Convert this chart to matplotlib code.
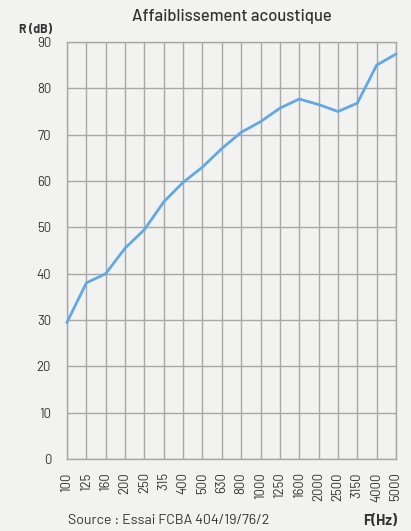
import matplotlib
matplotlib.use("Agg")
import matplotlib.pyplot as plt
from matplotlib import font_manager

freqs = ["100", "125", "160", "200", "250", "315", "400", "500", "630", "800",
         "1000", "1250", "1600", "2000", "2500", "3150", "4000", "5000"]
r_db = [29.5, 38, 40, 45.5, 49.5, 55.5, 59.7, 63, 67, 70.5,
        72.8, 75.7, 77.7, 76.5, 75, 76.8, 85, 87.4]
y_ticks = [0, 10, 20, 30, 40, 50, 60, 70, 80, 90]

names = {f.name for f in font_manager.fontManager.ttflist}
family = "DejaVu Sans"
for cand in ["Barlow", "Barlow Semi Condensed", "Roboto"]:
    if cand in names:
        family = cand
        break
plt.rcParams["font.family"] = [family, "DejaVu Sans"]

bg = "#f2f2f0"
text_col = "#333333"
grid_col = "#a8a8a8"

fig = plt.figure(figsize=(4.11, 5.31), dpi=100, facecolor=bg)
ax = fig.add_axes([67 / 411, 1 - 459 / 531, (396 - 67) / 411, (459 - 42) / 531])
ax.set_facecolor(bg)

x = list(range(len(freqs)))
ax.plot(x, r_db, color="#62a9e3", lw=2.0, solid_joinstyle="miter", zorder=3,
        clip_on=False)

ax.set_xlim(0, len(freqs) - 1)
ax.set_ylim(0, 90)
ax.set_xticks(x)
ax.set_xticklabels(freqs, rotation=90, fontsize=9.5, color=text_col)
ax.set_yticks(y_ticks)
ax.set_yticklabels([str(v) for v in y_ticks], fontsize=9.5, color=text_col)
ax.tick_params(length=0)
ax.tick_params(axis="y", pad=11.5)
ax.tick_params(axis="x", pad=9.5)
ax.grid(True, color=grid_col, lw=1)
for s in ax.spines.values():
    s.set_color(grid_col)
    s.set_linewidth(1)

fig.text(232 / 411, 1 - 17 / 531, "Affaiblissement acoustique", ha="center",
         va="center", fontsize=12, fontweight="medium", color=text_col)
fig.text(52 / 411, 1 - 29 / 531, "R (dB)", ha="right", va="center",
         fontsize=8.8, fontweight="bold", color=text_col)
fig.text(68 / 411, 1 - 521 / 531, "Source : Essai FCBA 404/19/76/2", ha="left",
         va="center", fontsize=10.2, color=text_col)
fig.text(397 / 411, 1 - 521 / 531, "F(Hz)", ha="right", va="center",
         fontsize=10.5, fontweight="bold", color=text_col)

fig.savefig("out.png", dpi=100, facecolor=bg)
